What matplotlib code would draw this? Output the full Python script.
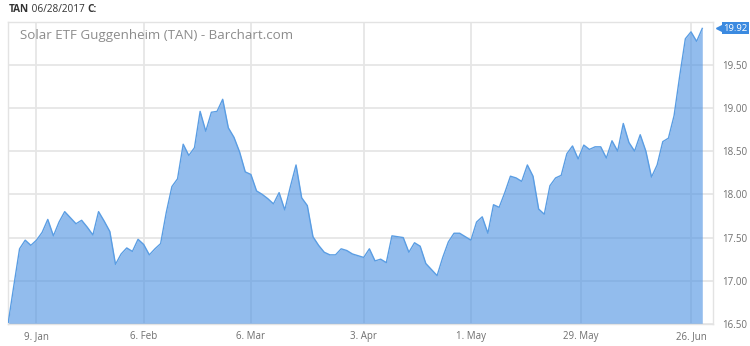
import matplotlib
matplotlib.use("Agg")
import matplotlib.pyplot as plt
import pandas as pd
import numpy as np

# ---- data ----
holidays = ["2017-01-02", "2017-01-16", "2017-02-20", "2017-04-14", "2017-05-29"]
dates = pd.bdate_range("2016-12-30", "2017-06-28", freq="C", holidays=holidays)

prices = [
    16.52, 16.95, 17.37, 17.47, 17.41, 17.47, 17.56, 17.71, 17.52, 17.68,
    17.80, 17.73, 17.66, 17.70, 17.62, 17.53, 17.80, 17.69, 17.57, 17.19,
    17.31, 17.38, 17.34, 17.48, 17.42, 17.30, 17.37, 17.43, 17.79, 18.09,
    18.18, 18.58, 18.45, 18.54, 18.96, 18.73, 18.95, 18.96, 19.10, 18.77,
    18.66, 18.49, 18.26, 18.23, 18.04, 18.00, 17.95, 17.89, 18.02, 17.82,
    18.09, 18.34, 17.96, 17.87, 17.51, 17.41, 17.33, 17.30, 17.30, 17.37,
    17.35, 17.31, 17.29, 17.27, 17.37, 17.23, 17.25, 17.21, 17.52, 17.51,
    17.50, 17.33, 17.44, 17.40, 17.20, 17.13, 17.06, 17.27, 17.45, 17.55,
    17.55, 17.51, 17.47, 17.68, 17.74, 17.55, 17.88, 17.85, 18.02, 18.21,
    18.19, 18.15, 18.34, 18.21, 17.83, 17.77, 18.10, 18.19, 18.22, 18.47,
    18.56, 18.41, 18.57, 18.52, 18.55, 18.55, 18.42, 18.62, 18.50, 18.82,
    18.60, 18.50, 18.69, 18.50, 18.20, 18.34, 18.61, 18.65, 18.91, 19.37,
    19.80, 19.88, 19.77, 19.92,
]

tick_dates = ["2017-01-09", "2017-02-06", "2017-03-06", "2017-04-03",
              "2017-05-01", "2017-05-29", "2017-06-26"]
tick_labels = ["9. Jan", "6. Feb", "6. Mar", "3. Apr", "1. May", "29. May", "26. Jun"]
y_ticks = [16.50, 17.00, 17.50, 18.00, 18.50, 19.00, 19.50]

symbol = "TAN"
date_str = "06/28/2017"
title = "Solar ETF Guggenheim (TAN) - Barchart.com"
last_price = prices[-1]

# ---- figure ----
plt.rcParams["font.family"] = ["Open Sans", "DejaVu Sans"]
fig = plt.figure(figsize=(7.5, 3.46), dpi=100)
ax = fig.add_axes([8 / 750, 22 / 346, 705 / 750, 302.5 / 346])

x = np.arange(len(prices))
ax.fill_between(x, prices, 16.5, color="#4a90e2", alpha=0.6, linewidth=0, zorder=2)
ax.plot(x, prices, color="#5a9de3", linewidth=1.0, zorder=3)

ax.set_xlim(-0.05, 124.9)
ax.set_ylim(16.5, 20.0)

# tick positions on ordinal (trading-day) axis
xt = []
for d in tick_dates:
    dd = pd.Timestamp(d)
    pos = dates.searchsorted(dd)
    if pos < len(dates) and dates[pos] == dd:
        xt.append(pos)
    else:
        xt.append(pos - 0.5)
ax.set_xticks(xt)
ax.set_xticklabels(tick_labels)
ax.set_yticks(y_ticks)
ax.set_yticklabels([f"{v:.2f}" for v in y_ticks])

ax.yaxis.tick_right()
ax.tick_params(axis="both", length=0, colors="#6f6f6f", labelsize=7)
ax.tick_params(axis="y", pad=6.5)
ax.tick_params(axis="x", pad=5)
for lab in ax.get_yticklabels():
    lab.set_horizontalalignment("left")

ax.grid(True, color="#e6e6e6", linewidth=1.3, zorder=0)
ax.set_axisbelow(True)
for s in ax.spines.values():
    s.set_color("#e3e3e3")
    s.set_linewidth(1.0)

ax.text(0.017, 0.955, title, transform=ax.transAxes, ha="left", va="center",
        fontsize=9.6, color="#8c8c8c")

# last price tag
trans = ax.get_yaxis_transform()
ax.plot([1.009], [last_price], marker="<", markersize=5, color="#3b8ae0",
        transform=trans, clip_on=False, zorder=5)
ax.text(1.0145, last_price, f"{last_price:.2f}", transform=trans, ha="left",
        va="center", fontsize=6.8, color="white", clip_on=False, zorder=6,
        bbox=dict(boxstyle="square,pad=0.15", fc="#3b8ae0", ec="none"))

# header
renderer = fig.canvas.get_renderer()
xpos = 9 / 750
ypos = 1 - 10 / 346
for txt, w in [(symbol, "bold"), (" " + date_str + " ", "normal"), ("C:", "bold")]:
    t = fig.text(xpos, ypos, txt, ha="left", va="center", fontsize=7.2,
                 fontweight=w, color="#333333")
    bb = t.get_window_extent(renderer=renderer)
    xpos += bb.width / fig.bbox.width

fig.savefig("out.png", dpi=100)
